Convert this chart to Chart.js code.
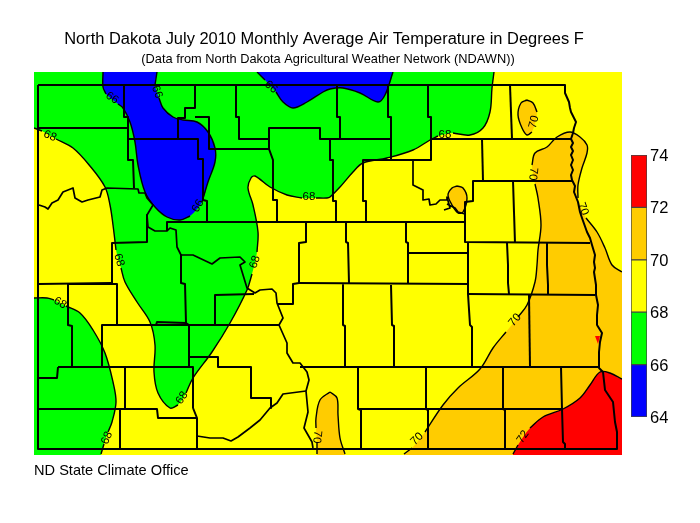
<!DOCTYPE html>
<html>
<head>
<meta charset="utf-8">
<title>North Dakota July 2010</title>
<script src="https://cdn.jsdelivr.net/npm/chart.js@4"></script>
<style>
    html, body { margin: 0; padding: 0; background: #fff; }
    #wrap { position: relative; width: 700px; height: 523px; overflow: hidden; }
    #map { position: absolute; left: 0; top: 0; }
    #scale { position: absolute; left: 631px; top: 135px; }
</style>
</head>
<body>
<div id="wrap">
    <canvas id="map" width="700" height="523"></canvas>
    <canvas id="scale" width="60" height="302"></canvas>
</div>
<script>
// Colour scale
const bandRanges = [[64, 66], [66, 68], [68, 70], [70, 72], [72, 74]];
const bandColors = ['#0000ff', '#00ff00', '#ffff00', '#ffcc00', '#ff0000'];
const scaleTicks = [64, 66, 68, 70, 72, 74];

// Map frame (map units)
const frameX = [34, 622];
const frameY = [72, 455];

// Isotherms, null = gap left for a label
const iso68North = [[34,128],[42,131],null,[56,139],[73,148],[90,166],[105,187],[110,205],[113,225],[116,250],null,[121,268],[125,282],[137,302],[150,322],[155,345],[154,372],[158,393],[170,408],[178,405],null,[186,393],[193,378],[212,352],[230,323],[247,290],[252,274],null,[257,252],[258,232],[253,205],[248,188],[251,178],[255,176],[270,187],[287,195],[302,198],null,[316,198],[327,198],[330,197],[340,187],[353,172],[363,163],[387,158],[413,150],[430,140],[438,136],null,[453,133],[470,135],[483,128],[490,112],[492,88],[494,72]];
const iso68SouthWest = [[34,298],[47,298],[54,300],null,[66,306],[80,313],[93,330],[105,353],[113,382],[116,402],[112,422],[108,432],null,[104,444],[101,454]];
const iso66West = [[103,72],[103,87],[106,94],null,[118,104],[123,108],[130,122],[135,142],[138,165],[145,192],[155,207],[167,217],[180,220],[190,216],null,[202,202],[208,182],[215,162],[215,148],[208,132],[197,122],[183,120],[173,117],[163,108],[159,98],null,[155,85],[157,72]];
const iso66North = [[257,72],[265,80],null,[276,92],[283,102],[293,108],[307,102],[323,92],[330,89],[343,88],[360,93],[378,102],[385,95],[393,72]];
const iso70East = [[404,454],[412,448],null,[425,432],[443,405],[458,388],[480,369],[493,348],[506,332],null,[518,317],[527,305],[535,282],[537,265],[538,250],[541,225],[538,198],[535,184],null,[532,165],[535,153],[547,147],[557,137],[570,132],[580,137],[587,145],[587,153],[582,168],[578,185],[578,198],null,[586,218],[597,232],[605,248],[612,265],[622,272]];
const iso70NorthEast = [[527,100],[533,103],[537,112],null,[532,132],[527,135],[522,128],[518,115],[521,103],[527,100]];
const iso70Lake = [[457,186],[463,188],[467,198],[463,212],[458,213],[452,205],[448,195],[452,188],[457,186]];
const iso70South = [[330,392],[337,398],[338,415],[340,438],[345,454]];
const iso70SouthWest = [[317,454],[317,442],null,[316,428],[316,418],[320,400],[330,392]];
const iso72SouthEast = [[513,454],[518,445],null,[530,428],[543,417],[563,409],[580,398],[590,385],[600,372],[610,373],[622,379]];
const iso72River = [[595,336],[600,336],[598,344],[595,336]];

// Closing points of the filled areas, outside the frame so the clip trims them
const closeNorth = [[494,50],[10,50],[10,128]];
const closeSouthWest = [[101,480],[10,480],[10,298]];
const closeEast = [[650,272],[650,480],[404,480]];
const closeSouth = [[345,480],[317,480]];
const closeSouthEast = [[650,379],[650,480],[513,480]];
const closeWest = [[157,50],[103,50]];
const closeNorthBlue = [[393,50],[257,50]];

// State and county boundaries
const boundaryState = [[38,85],[565,85],[565,93],[569,102],[570,108],[571,112],[574,118],[576,122],[574,128],[573,133],[571,139],[573,143],[571,147],[573,151],[571,155],[573,160],[571,165],[573,170],[571,175],[572,180],[575,186],[574,192],[578,202],[580,212],[582,218],[587,232],[590,238],[592,245],[595,255],[594,262],[595,268],[594,272],[596,285],[596,295],[598,305],[597,315],[597,325],[602,333],[600,342],[599,352],[599,368],[603,372],[605,390],[613,402],[615,422],[617,432],[617,449],[38,449],[38,85]];
const boundaryMissouri = [[39,205],[45,207],[48,209],[52,203],[58,200],[63,192],[73,188],[75,198],[82,202],[88,200],[100,197],[102,190],[107,188],[138,189],[139,193],[145,193],[147,198],[153,205],[147,215],[148,227],[155,231],[167,231],[170,228],[176,230],[177,247],[181,255],[193,255],[212,264],[220,258],[240,257],[245,262],[240,265],[247,288],[255,293],[260,290],[272,289],[276,293],[277,303],[283,318],[279,325],[287,343],[287,353],[293,363],[300,363],[307,372],[309,380],[306,391],[308,412],[304,428],[312,442],[313,448]];
const boundaryHeart = [[306,391],[283,394],[277,403],[270,408],[260,420],[250,428],[238,437],[231,441],[223,438],[210,438],[197,436]];
const boundarySheyenne = [[413,160],[413,185],[423,190],[423,200],[429,199],[430,205],[436,204],[440,200],[446,200],[447,197],[450,208],[444,210],null,[447,204],[455,208],[458,212],[465,214]];
const boundaryCounties = [
    [[38,128],[128,128]],
    [[124,85],[124,117],[128,117],[128,160],[133,160],[134,188]],
    [[147,215],[147,242],[112,243],[112,283]],
    [[128,139],[198,139],[198,159],[203,159],[203,200],[207,201],[207,221]],
    [[178,139],[178,118],[185,118],[185,108],[195,108],[195,85]],
    [[195,117],[209,117],[209,149],[269,149]],
    [[269,128],[269,149],[273,160],[273,200],[277,200],[277,221]],
    [[236,85],[236,117],[239,117],[239,139],[269,139]],
    [[269,128],[320,128],[320,139],[390,139]],
    [[337,85],[337,117],[340,117],[340,139]],
    [[388,85],[388,117],[391,117],[391,159]],
    [[428,85],[428,117],[431,117],[431,160]],
    [[363,160],[431,160]],
    [[363,160],[363,201],[366,201],[366,222]],
    [[330,139],[330,160],[333,160],[333,201],[336,201],[336,222]],
    [[465,202],[473,201],[473,181],[572,181]],
    [[465,202],[465,242],[590,243]],
    [[432,139],[572,139]],
    [[510,85],[512,139]],
    [[482,139],[483,181]],
    [[513,181],[515,243]],
    [[547,243],[547,265],[548,285],[548,294]],
    [[507,243],[508,265],[508,283],[509,294]],
    [[468,294],[595,295]],
    [[468,243],[468,294],[470,325],[472,327],[472,367]],
    [[408,253],[467,253]],
    [[406,222],[406,242],[408,243],[408,283]],
    [[346,222],[346,242],[348,243],[349,283]],
    [[167,231],[167,222],[465,222]],
    [[39,284],[112,283]],
    [[68,284],[68,325],[72,326],[72,367]],
    [[68,284],[117,284],[117,325]],
    [[102,325],[280,325]],
    [[102,325],[102,367]],
    [[58,367],[193,367]],
    [[58,367],[57,378],[39,378]],
    [[39,409],[157,409],[158,418],[197,418]],
    [[120,409],[120,448]],
    [[125,367],[125,409]],
    [[193,367],[193,408],[197,418],[197,448]],
    [[156,325],[157,322],[186,323],[189,325],[189,367]],
    [[189,357],[218,357],[218,367],[251,367],[251,398],[271,398],[271,408]],
    [[215,295],[215,325]],
    [[215,295],[254,294]],
    [[181,255],[181,283],[185,284],[186,323]],
    [[277,304],[293,304],[293,284],[299,283],[299,243],[306,242],[306,222]],
    [[299,283],[469,284]],
    [[300,367],[598,367]],
    [[343,285],[343,325],[345,326],[345,367]],
    [[391,285],[392,325],[394,326],[394,367]],
    [[358,367],[358,409],[361,410],[361,449]],
    [[426,367],[426,409],[428,410],[428,449]],
    [[503,367],[503,409],[505,410],[505,449]],
    [[561,367],[562,409],[563,442],[565,444],[565,449]],
    [[358,409],[562,409]],
    [[529,295],[530,367]]
];

// Isotherm labels: x, y, angle, text
const contourLabels = [
    [50,136,25,'68'], [119,260,75,'68'], [182,398,-55,'68'], [255,262,-72,'68'], [309,197,0,'68'], [445,135,0,'68'],
    [60,303,30,'68'], [107,438,-68,'68'],
    [112,98,35,'66'], [157,92,70,'66'], [271,87,40,'66'], [198,206,-60,'66'],
    [534,122,-75,'70'], [533,174,95,'70'], [583,209,70,'70'], [515,320,-50,'70'], [417,439,-45,'70'], [317,437,95,'70'],
    [523,437,-55,'72']
];

// Page texts
const titleText = 'North Dakota July 2010 Monthly Average Air Temperature in Degrees F';
const subtitleText = '(Data from North Dakota Agricultural Weather Network (NDAWN))';
const footerText = 'ND State Climate Office';

function toPoints(list) {
    return list.map(p => p ? { x: p[0], y: p[1] } : { x: null, y: null });
}

function fillLayer(color, ...parts) {
    const pts = parts.flat().filter(Boolean);
    return { data: toPoints(pts), showLine: true, fill: 'shape', backgroundColor: color, borderWidth: 0, pointRadius: 0, tension: 0.35 };
}

function lineLayer(list, width, tension) {
    return { data: toPoints(list), showLine: true, fill: false, borderColor: '#000', borderWidth: width, pointRadius: 0, tension: tension, borderJoinStyle: 'round' };
}

const frameBox = [[frameX[0],frameY[0]],[frameX[1],frameY[0]],[frameX[1],frameY[1]],[frameX[0],frameY[1]]];

// Listed bottom to top, the library draws the first dataset last so it gets reversed
const layers = [
    Object.assign(fillLayer('#ffff00', frameBox), { tension: 0 }),
    fillLayer('#00ff00', iso68North, closeNorth),
    fillLayer('#00ff00', iso68SouthWest, closeSouthWest),
    fillLayer('#0000ff', iso66West, closeWest),
    fillLayer('#0000ff', iso66North, closeNorthBlue),
    fillLayer('#ffcc00', iso70East, closeEast),
    fillLayer('#ffcc00', iso70NorthEast),
    fillLayer('#ffcc00', iso70Lake),
    fillLayer('#ffcc00', iso70SouthWest, iso70South, closeSouth),
    fillLayer('#ff0000', iso72SouthEast, closeSouthEast),
    Object.assign(fillLayer('#ff0000', iso72River), { tension: 0 }),
    lineLayer(boundaryState, 2, 0),
    lineLayer(boundaryMissouri, 1.7, 0),
    lineLayer(boundaryHeart, 1.7, 0),
    lineLayer(boundarySheyenne, 1.7, 0),
    ...boundaryCounties.map(c => lineLayer(c, 2, 0)),
    ...[iso68North, iso68SouthWest, iso66West, iso66North, iso70East, iso70NorthEast, iso70Lake, iso70South, iso70SouthWest, iso72SouthEast].map(c => lineLayer(c, 1.4, 0.35))
];

// Titles and isotherm labels go on top of the map
const textPlugin = {
    id: 'mapText',
    afterDraw: function (chart) {
        const ctx = chart.ctx;
        const sx = chart.scales.x;
        const sy = chart.scales.y;
        ctx.save();
        ctx.fillStyle = '#000';
        ctx.textBaseline = 'middle';
        ctx.textAlign = 'center';
        ctx.font = '16.45px "Liberation Sans", Arial, sans-serif';
        ctx.fillText(titleText, 324, 39);
        ctx.font = '12.8px "Liberation Sans", Arial, sans-serif';
        ctx.fillText(subtitleText, 328, 59);
        ctx.textAlign = 'left';
        ctx.font = '14.6px "Liberation Sans", Arial, sans-serif';
        ctx.fillText(footerText, 34, 471);

        ctx.textAlign = 'center';
        ctx.font = '11.5px "Liberation Sans", Arial, sans-serif';
        contourLabels.forEach(l => {
            ctx.save();
            ctx.translate(sx.getPixelForValue(l[0]), sy.getPixelForValue(l[1]));
            ctx.rotate(l[2] * Math.PI / 180);
            ctx.fillText(l[3], 0, 0);
            ctx.restore();
        });
        ctx.restore();
    }
};

new Chart(document.getElementById('map'), {
    type: 'scatter',
    data: { datasets: layers.reverse() },
    options: {
        responsive: false,
        animation: false,
        events: [],
        layout: { padding: { left: frameX[0], right: 700 - frameX[1], top: frameY[0], bottom: 523 - frameY[1] } },
        plugins: { legend: { display: false }, tooltip: { enabled: false } },
        scales: {
            x: { type: 'linear', min: frameX[0], max: frameX[1], display: false },
            y: { type: 'linear', min: frameY[0], max: frameY[1], reverse: true, display: false }
        }
    },
    plugins: [textPlugin]
});

new Chart(document.getElementById('scale'), {
    type: 'bar',
    data: {
        labels: ['F'],
        datasets: bandRanges.map((r, i) => ({
            data: [r],
            backgroundColor: bandColors[i],
            borderColor: '#444',
            borderWidth: 1,
            borderSkipped: false,
            barPercentage: 1,
            categoryPercentage: 1
        }))
    },
    options: {
        responsive: false,
        animation: false,
        events: [],
        layout: { padding: { top: 20, bottom: 20 } },
        plugins: { legend: { display: false }, tooltip: { enabled: false } },
        scales: {
            x: { stacked: true, display: false },
            y: {
                position: 'right',
                min: 64,
                max: 74,
                grid: { display: false, drawTicks: false },
                border: { display: false },
                afterFit: function (s) { s.width = 44; },
                afterBuildTicks: function (s) { s.ticks = scaleTicks.map(v => ({ value: v })); },
                ticks: { color: '#000', padding: 3, labelOffset: 1.5, font: { size: 16.5, family: '"Liberation Sans", Arial, sans-serif' } }
            }
        }
    }
});
</script>
</body>
</html>
